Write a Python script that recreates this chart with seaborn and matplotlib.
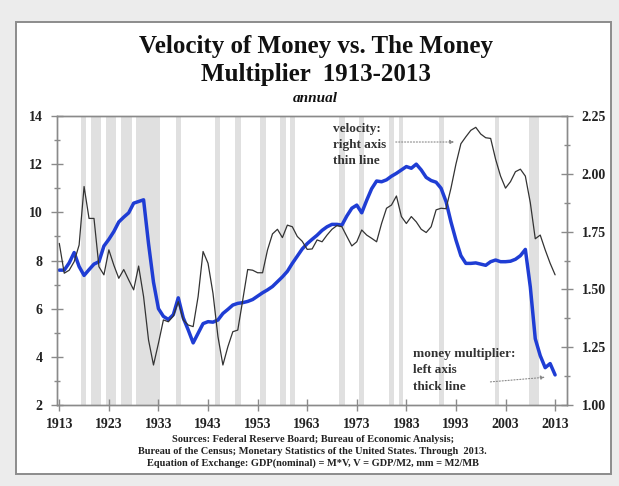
import numpy as np
import pandas as pd
import seaborn as sns
import matplotlib.pyplot as plt
from matplotlib.patches import Rectangle
from matplotlib.ticker import MultipleLocator

# ---- data ----
years = list(range(1913, 2014))

# money multiplier (M2/MB), left axis
money_multiplier = [
    7.60, 7.60, 7.90, 8.33, 7.75, 7.38, 7.62, 7.85, 7.95, 8.60,
    8.88, 9.20, 9.60, 9.80, 9.98, 10.38, 10.45, 10.52, 8.70, 7.10,
    6.00, 5.68, 5.55, 5.75, 6.45, 5.62, 5.12, 4.58, 4.98, 5.38,
    5.46, 5.44, 5.53, 5.80, 5.97, 6.15, 6.22, 6.25, 6.30, 6.38,
    6.52, 6.66, 6.78, 6.92, 7.12, 7.32, 7.55, 7.88, 8.18, 8.48,
    8.70, 8.88, 9.05, 9.25, 9.40, 9.50, 9.50, 9.47, 9.85, 10.17,
    10.30, 9.98, 10.50, 10.98, 11.30, 11.27, 11.35, 11.50, 11.62, 11.76,
    11.90, 11.83, 12.00, 11.76, 11.45, 11.32, 11.25, 11.00, 10.45, 9.60,
    8.85, 8.20, 7.88, 7.88, 7.90, 7.85, 7.80, 7.95, 8.02, 7.95,
    7.95, 7.97, 8.05, 8.20, 8.46, 6.90, 4.75, 4.05, 3.55, 3.72,
    3.25,
]

# velocity of money (GDP/M2), right axis
velocity = [
    1.699, 1.570, 1.583, 1.620, 1.692, 1.945, 1.807, 1.807, 1.598, 1.563,
    1.671, 1.605, 1.548, 1.586, 1.541, 1.498, 1.601, 1.469, 1.281, 1.173,
    1.267, 1.368, 1.360, 1.385, 1.447, 1.368, 1.346, 1.339, 1.469, 1.664,
    1.613, 1.483, 1.296, 1.173, 1.252, 1.317, 1.324, 1.454, 1.586, 1.583,
    1.572, 1.572, 1.671, 1.740, 1.760, 1.724, 1.778, 1.771, 1.729, 1.708,
    1.673, 1.675, 1.714, 1.706, 1.735, 1.760, 1.776, 1.771, 1.729, 1.688,
    1.706, 1.757, 1.735, 1.721, 1.706, 1.785, 1.851, 1.865, 1.904, 1.815,
    1.785, 1.815, 1.792, 1.760, 1.746, 1.771, 1.844, 1.851, 1.849, 1.938,
    2.042, 2.130, 2.160, 2.188, 2.201, 2.172, 2.156, 2.153, 2.063, 1.990,
    1.938, 1.966, 2.009, 2.020, 1.990, 1.875, 1.719, 1.735, 1.671, 1.613,
    1.563,
]

# shaded recession periods (start, end)
recession_start = [1917.3, 1919.3, 1922.5, 1925.4, 1928.5, 1936.6, 1944.4, 1948.4,
                   1953.5, 1957.5, 1959.5, 1969.5, 1973.5, 1979.5, 1981.5, 1989.6,
                   2000.8, 2007.8]
recession_end = [1918.4, 1921.5, 1924.5, 1927.6, 1933.4, 1937.6, 1945.5, 1949.6,
                 1954.6, 1958.7, 1960.6, 1970.6, 1974.5, 1980.5, 1982.3, 1990.5,
                 2001.7, 2009.8]

x_ticks = list(range(1913, 2014, 10))
left_ticks = [2, 4, 6, 8, 10, 12, 14]
right_ticks = [1.00, 1.25, 1.50, 1.75, 2.00, 2.25]

df = pd.DataFrame({"year": years, "mm": money_multiplier, "vel": velocity})

# ---- styling ----
sns.set_theme(style="white")
plt.rcParams["font.family"] = ["Liberation Serif", "DejaVu Serif"]
plt.rcParams["font.weight"] = "bold"

W, H = 619, 486
fig = plt.figure(figsize=(W / 100, H / 100), dpi=100, facecolor="#ececec")

# white panel with a border (behind everything)
fig.patches.append(Rectangle((16 / W, 1 - 474 / H), (611 - 16) / W, (474 - 22) / H,
                             transform=fig.transFigure, facecolor="white",
                             edgecolor="#8c8c8c", linewidth=1.4, zorder=-10))

ax = fig.add_axes([57.3 / W, 1 - 405 / H, (567 - 57.3) / W, (405 - 116) / H])
ax.set_facecolor("none")
ax2 = ax.twinx()
ax2.set_facecolor("none")

gray = "#8a8a8a"

for s, e in zip(recession_start, recession_end):
    ax.axvspan(s, e, color="#e0e0e0", lw=0, zorder=0)

sns.lineplot(data=df, x="year", y="mm", ax=ax, color="#1f3dd4", linewidth=2.5, zorder=3)
sns.lineplot(data=df, x="year", y="vel", ax=ax2, color="#333333", linewidth=0.9, zorder=2)

ax.set_xlim(1912.6, 2015.4)
ax.set_ylim(2, 14)
ax2.set_ylim(1.0, 2.25)

ax.set_xticks(x_ticks)
ax.set_yticks(left_ticks)
ax.yaxis.set_minor_locator(MultipleLocator(1))
ax2.set_yticks(right_ticks)
ax2.yaxis.set_minor_locator(MultipleLocator(0.125))
ax2.set_yticklabels([f"{v:.2f}" for v in right_ticks])

for a in (ax, ax2):
    a.set_xlabel("")
    a.set_ylabel("")
    for sp in a.spines.values():
        sp.set_color(gray)
        sp.set_linewidth(1.0)

ax.tick_params(axis="x", which="major", direction="inout", length=8, width=1,
               color=gray, labelsize=10, pad=5, bottom=True, top=False)
ax.tick_params(axis="y", which="major", direction="inout", length=9, width=1,
               color=gray, labelsize=10, pad=6, left=True, right=False)
ax.tick_params(axis="y", which="minor", direction="inout", length=5, width=1,
               color=gray, left=True, right=False)
ax2.tick_params(axis="y", which="major", direction="inout", length=9, width=1,
                color=gray, labelsize=10, pad=6)
ax2.tick_params(axis="y", which="minor", direction="inout", length=5, width=1,
                color=gray)
for lab in ax.get_xticklabels() + ax.get_yticklabels() + ax2.get_yticklabels():
    lab.set_fontweight("bold")
    lab.set_color("#222222")

# annotations
ax.text(1968.2, 13.7, "velocity:\nright axis\nthin line", fontsize=9.5,
        fontweight="bold", color="#333333", ha="left", va="top", linespacing=1.45)
ax.annotate("", xy=(1993.2, 12.92), xytext=(1980.3, 12.92),
            arrowprops=dict(arrowstyle="-|>", color="#888888", lw=0.8,
                            linestyle=":", mutation_scale=6))
ax.text(1984.3, 4.35, "money multiplier:\nleft axis\nthick line", fontsize=9.5,
        fontweight="bold", color="#333333", ha="left", va="top", linespacing=1.45)
ax.annotate("", xy=(2011.5, 3.16), xytext=(1999.4, 2.95),
            arrowprops=dict(arrowstyle="-|>", color="#888888", lw=0.8,
                            linestyle=":", mutation_scale=6))

# titles
fig.text(0.51, 1 - 46 / H, "Velocity of Money vs. The Money", ha="center", va="center",
         fontsize=18, fontweight="bold", color="#111111")
fig.text(0.51, 1 - 75 / H, "Multiplier  1913-2013", ha="center", va="center",
         fontsize=18, fontweight="bold", color="#111111")
fig.text(0.51, 1 - 98 / H, "annual", ha="center", va="center",
         fontsize=11, fontweight="bold", style="italic", color="#111111")

# sources
src = ["Sources: Federal Reserve Board; Bureau of Economic Analysis;",
       "Bureau of the Census; Monetary Statistics of the United States. Through  2013.",
       "Equation of Exchange: GDP(nominal) = M*V, V = GDP/M2, mm = M2/MB"]
for i, line in enumerate(src):
    fig.text(0.505, 1 - (439 + 12 * i) / H, line, ha="center", va="center",
             fontsize=7.5, fontweight="bold", color="#222222")

fig.savefig("out.png", dpi=100, facecolor=fig.get_facecolor())
